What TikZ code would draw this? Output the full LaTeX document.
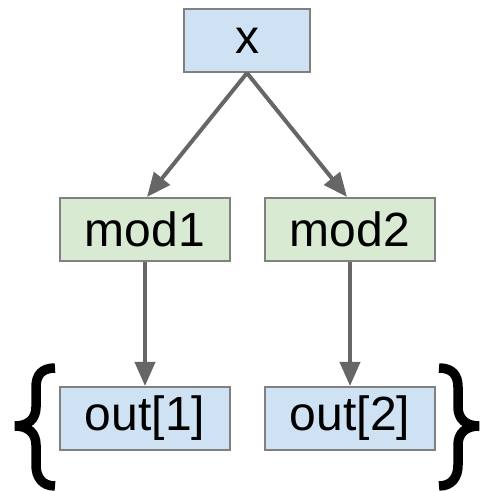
\documentclass[tikz,border=0pt]{standalone}
\usepackage{fontspec}
\setmainfont{Liberation Sans}
\usetikzlibrary{positioning,arrows.meta}
\definecolor{inbox}{HTML}{CFE2F3}
\definecolor{modbox}{HTML}{D9EAD3}
\definecolor{edge}{HTML}{808080}
\definecolor{arrowgray}{HTML}{666666}

\begin{document}
\begin{tikzpicture}[x=1pt, y=1pt,
  tensor/.style={draw=edge, line width=2pt, fill=inbox,
    minimum width=126pt, minimum height=63pt, inner sep=0pt,
    font=\fontsize{48}{52}\selectfont},
  module/.style={tensor, fill=modbox, minimum width=170pt},
  outbox/.style={tensor, minimum width=170pt},
  tuplebrace/.style={line width=9.5pt, black},
  arr/.style={-{Triangle[length=24pt, width=20pt]}, line width=4pt,
    arrowgray},
]
  \useasboundingbox (0,0) rectangle (483,491);

  \node[tensor] (x) at (247,450.5) {x};
  \node[module] (mod1) at (145,261.5) {mod1};
  \node[module] (mod2) at (350,261.5) {mod2};
  \node[outbox] (out1) at (145,72.5) {out[1]};
  \node[outbox] (out2) at (350,72.5) {out[2]};

  % tuple braces round the outputs
  \draw[tuplebrace] (55,123) .. controls (42,123) and (36,116) .. (36,104)
    -- (36,84) .. controls (36,72) and (28,65) .. (15,65)
    .. controls (28,65) and (36,58) .. (36,46)
    -- (36,26) .. controls (36,14) and (42,5) .. (55,5);
  \draw[tuplebrace] (439,123) .. controls (452,123) and (458,116) .. (458,104)
    -- (458,84) .. controls (458,72) and (466,65) .. (479,65)
    .. controls (466,65) and (458,58) .. (458,46)
    -- (458,26) .. controls (458,14) and (452,5) .. (439,5);

  \draw[arr] (x.south) -- ([xshift=2pt]mod1.north);
  \draw[arr] (x.south) -- ([xshift=-3pt]mod2.north);
  \draw[arr] (mod1) -- (out1);
  \draw[arr] (mod2) -- (out2);
\end{tikzpicture}
\end{document}
